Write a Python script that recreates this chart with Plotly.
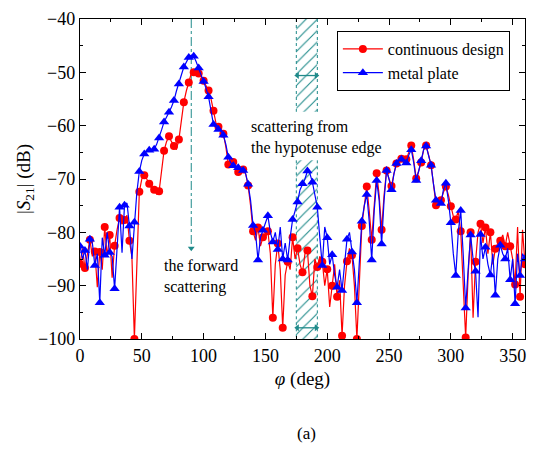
import plotly.graph_objects as go

phi = list(range(0, 361, 2))

continuous_design = [
    -85.9, -83.0, -86.7, -84.0, -81.4, -84.5, -83.6, -90.3, -83.7, -87.0,   # 0-18
    -79.0, -84.5, -80.5, -88.5, -82.5, -79.5, -77.3, -78.5, -77.7, -76.8,   # 20-38
    -81.6, -84.6, -100.0, -86.0, -72.4, -70.0, -69.3, -70.0, -70.9, -71.8,  # 40-58
    -72.0, -72.8, -72.3, -68.0, -64.7, -63.0, -62.0, -63.0, -63.8, -64.5,   # 60-78
    -62.6, -59.0, -55.6, -53.5, -51.9, -50.2, -50.0, -50.1, -50.2, -50.8,   # 80-98
    -51.6, -52.5, -53.4, -55.0, -57.2, -59.5, -60.2, -61.0, -61.5, -64.0,   # 100-118
    -67.3, -67.5, -66.8, -68.0, -68.7, -68.5, -68.2, -69.0, -71.2, -75.0,   # 120-138
    -79.8, -81.5, -79.1, -82.6, -80.9, -81.0, -79.8, -84.0, -96.0, -86.0,   # 140-158
    -82.1, -87.0, -97.9, -88.0, -85.5, -87.0, -80.9, -85.0, -83.0, -86.0,   # 160-178
    -87.5, -84.0, -83.4, -90.0, -92.0, -85.0, -86.5, -84.5, -85.5, -90.0,   # 180-198
    -86.9, -94.0, -90.0, -86.0, -92.1, -89.0, -99.4, -90.0, -85.4, -83.0,   # 200-218
    -84.3, -90.0, -100.0, -90.0, -78.8, -75.0, -71.4, -76.0, -81.4, -75.0,  # 220-238
    -68.9, -73.0, -79.5, -73.0, -68.4, -70.0, -71.3, -69.0, -67.1, -66.5,   # 240-258
    -66.2, -66.5, -66.3, -65.0, -63.7, -66.5, -69.9, -68.5, -66.9, -64.5,   # 260-278
    -63.7, -65.5, -67.4, -71.0, -74.9, -74.5, -74.0, -72.5, -71.4, -73.0,   # 280-298
    -75.1, -77.0, -77.6, -76.0, -79.8, -90.0, -99.7, -88.0, -80.0, -96.0,   # 300-318
    -85.5, -80.0, -78.4, -82.0, -79.1, -84.0, -80.0, -86.0, -83.1, -82.0,   # 320-338
    -81.6, -80.5, -82.6, -80.0, -82.6, -85.0, -89.8, -79.0, -92.1, -79.5,   # 340-358
    -86.0,                                                                 # 360
]

metal_plate = [
    -82.6, -85.0, -83.4, -87.0, -81.3, -82.0, -86.2, -84.0, -93.2, -81.0,   # 0-18
    -84.3, -80.0, -83.8, -84.5, -90.6, -82.0, -75.3, -83.8, -74.9, -74.5,   # 20-38
    -78.8, -85.0, -78.1, -72.5, -68.6, -66.5, -65.3, -64.8, -64.6, -64.5,   # 40-58
    -64.4, -63.5, -62.3, -60.8, -59.3, -58.5, -57.5, -56.5, -55.3, -53.5,   # 60-78
    -52.2, -50.5, -49.0, -48.0, -47.2, -46.8, -47.0, -48.0, -49.2, -50.5,   # 80-98
    -51.7, -53.0, -54.6, -57.0, -59.8, -60.3, -60.7, -61.0, -61.8, -63.5,   # 100-118
    -65.9, -67.0, -67.5, -67.8, -67.9, -68.2, -68.4, -69.0, -71.0, -74.0,   # 120-138
    -78.7, -80.0, -85.2, -81.0, -79.6, -78.0, -76.9, -80.0, -81.8, -80.0,   # 140-158
    -83.2, -79.0, -85.0, -82.0, -85.2, -81.0, -77.6, -76.0, -74.3, -72.0,   # 160-178
    -70.9, -70.0, -68.5, -69.0, -70.6, -73.0, -75.3, -81.0, -86.2, -79.0,   # 180-198
    -81.0, -86.0, -84.2, -88.0, -90.3, -87.0, -90.9, -86.0, -81.3, -80.0,   # 200-218
    -83.7, -87.0, -93.2, -85.0, -77.9, -75.0, -72.9, -78.0, -85.2, -76.0,   # 220-238
    -70.3, -74.0, -82.2, -74.0, -68.4, -70.0, -72.0, -69.0, -67.1, -66.5,   # 240-258
    -66.3, -67.0, -67.0, -65.5, -64.5, -67.0, -70.3, -68.5, -66.6, -64.5,   # 260-278
    -63.8, -65.5, -67.4, -71.0, -74.0, -74.3, -74.6, -72.0, -70.8, -74.0,   # 280-298
    -78.2, -84.0, -88.1, -80.0, -75.9, -84.0, -94.2, -87.0, -80.5, -85.0,   # 300-318
    -87.3, -95.9, -80.4, -85.0, -82.8, -86.0, -88.0, -84.0, -91.8, -85.0,   # 320-338
    -82.4, -84.0, -85.0, -83.0, -88.9, -85.0, -93.4, -84.0, -88.1, -84.0,   # 340-358
    -85.0,                                                                 # 360
]

series_names = ["continuous design", "metal plate"]
x_ticks = [0, 50, 100, 150, 200, 250, 300, 350]
y_ticks = [-100, -90, -80, -70, -60, -50, -40]
hatch_x = [175, 192]
hatch_upper_y = [-40, -57.4]
hatch_lower_y = [-66.5, -100]
arrow_upper_y = -50.6
arrow_lower_y = -97.9
forward_x = 90
forward_arrow_y = [-40, -83.0]

RED = "#ff0000"
BLUE = "#0000ff"
TEAL = "#1f8a8a"
FONT = "Times New Roman, Liberation Serif, DejaVu Serif, serif"

fig = go.Figure()

# hatched regions
for (y0, y1) in (hatch_upper_y, hatch_lower_y):
    fig.add_trace(go.Scatter(
        x=[hatch_x[0], hatch_x[1], hatch_x[1], hatch_x[0], hatch_x[0]],
        y=[y0, y0, y1, y1, y0],
        fill="toself", mode="lines",
        line=dict(width=0, color=TEAL),
        fillcolor="rgba(0,0,0,0)",
        fillpattern=dict(shape="/", fgcolor=TEAL, bgcolor="rgba(255,255,255,0)",
                         size=8, solidity=0.14, fgopacity=1),
        showlegend=False, hoverinfo="skip"))
    for xv in hatch_x:
        fig.add_trace(go.Scatter(
            x=[xv, xv], y=[y0, y1], mode="lines",
            line=dict(color=TEAL, width=1, dash="dot"),
            showlegend=False, hoverinfo="skip"))

# double-headed width arrows
for ya in (arrow_upper_y, arrow_lower_y):
    fig.add_trace(go.Scatter(
        x=[hatch_x[0] + 0.8, hatch_x[1] - 0.8], y=[ya, ya], mode="lines+markers",
        line=dict(color=TEAL, width=1.3),
        marker=dict(symbol=["triangle-left", "triangle-right"], size=6, color=TEAL),
        showlegend=False, hoverinfo="skip"))

# forward scattering dash-dot line with arrow head
fig.add_trace(go.Scatter(
    x=[forward_x, forward_x], y=forward_arrow_y, mode="lines",
    line=dict(color=TEAL, width=1, dash="dashdot"),
    showlegend=False, hoverinfo="skip"))
fig.add_trace(go.Scatter(
    x=[forward_x], y=[forward_arrow_y[1]], mode="markers",
    marker=dict(symbol="triangle-down", size=6, color=TEAL),
    showlegend=False, hoverinfo="skip"))

mark_idx = [i for i, p in enumerate(phi) if p % 4 == 0]

def add_series(name, ys, color, symbol, msize):
    fig.add_trace(go.Scatter(
        x=phi, y=ys, mode="lines", line=dict(color=color, width=1.2),
        showlegend=False, legendgroup=name, hoverinfo="skip"))
    fig.add_trace(go.Scatter(
        x=[phi[i] for i in mark_idx], y=[ys[i] for i in mark_idx],
        mode="markers", marker=dict(color=color, symbol=symbol, size=msize),
        showlegend=False, legendgroup=name))
    fig.add_trace(go.Scatter(
        x=[None], y=[None], mode="lines+markers", name=name,
        line=dict(color=color, width=1.2),
        marker=dict(color=color, symbol=symbol, size=msize),
        legendgroup=name))

add_series(series_names[0], continuous_design, RED, "circle", 8)
add_series(series_names[1], metal_plate, BLUE, "triangle-up", 9)

annotations = [
    dict(x=137, y=-62.2, xref="x", yref="y", text="scattering from<br>the hypotenuse edge",
         showarrow=False, xanchor="left", yanchor="middle", align="left",
         font=dict(family=FONT, size=16, color="black")),
    dict(x=66, y=-88.3, xref="x", yref="y", text="the forward<br>scattering",
         showarrow=False, xanchor="left", yanchor="middle", align="left",
         font=dict(family=FONT, size=16, color="black")),
    dict(x=0.509, y=-0.296, xref="paper", yref="paper", text="(a)",
         showarrow=False, xanchor="center", yanchor="middle",
         font=dict(family=FONT, size=17, color="black")),
]

axis_common = dict(
    showline=True, linecolor="black", linewidth=1.3, mirror="ticks",
    ticks="inside", ticklen=6, tickwidth=1, tickcolor="black",
    showgrid=False, zeroline=False,
    tickfont=dict(family=FONT, size=18, color="black"),
)

fig.update_layout(
    width=535, height=449,
    margin=dict(l=80, r=9, t=11, b=110),
    paper_bgcolor="white", plot_bgcolor="white",
    xaxis=dict(range=[0, 360], tickvals=x_ticks,
               title=dict(text="<i>φ</i> (deg)", standoff=6,
                          font=dict(family=FONT, size=19, color="black")),
               minor=dict(dtick=25, tick0=0, ticks="inside", ticklen=3, tickcolor="black"),
               **axis_common),
    yaxis=dict(range=[-100, -40], tickvals=y_ticks,
               title=dict(text="|<i>S</i><sub>21</sub>| (dB)", standoff=2,
                          font=dict(family=FONT, size=19, color="black")),
               minor=dict(dtick=5, tick0=0, ticks="inside", ticklen=3, tickcolor="black"),
               **axis_common),
    legend=dict(x=0.966, y=0.9625, xanchor="right", yanchor="top",
                bordercolor="black", borderwidth=1, bgcolor="white",
                font=dict(family=FONT, size=16, color="black"),
                tracegroupgap=0, itemwidth=40),
    annotations=annotations,
    font=dict(family=FONT, color="black"),
)

fig.write_html("out.html")
